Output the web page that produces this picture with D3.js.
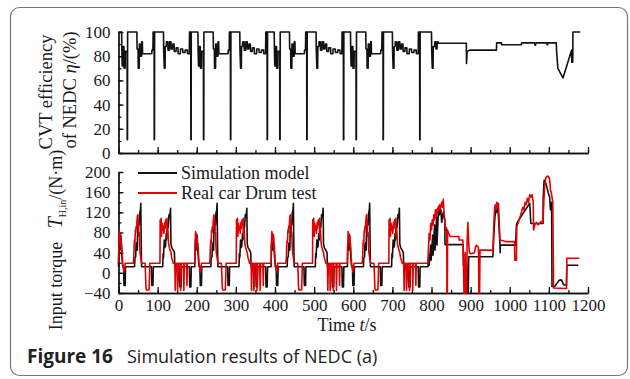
<!DOCTYPE html>
<html lang="en">
	<head>
		<meta charset="utf-8">
		<title>Simulation results of NEDC (a)</title>
		<script type="text/javascript" src="https://cdn.jsdelivr.net/npm/d3@7/dist/d3.min.js"></script>
		<style type="text/css">
			body { margin: 0; background: #fff; }
			.tick text { font-family: "Liberation Serif", "DejaVu Serif", serif; font-size: 17px; fill: #1a1a1a; }
		</style>
	</head>
	<body>
		<script>
			// start times of the four urban (ECE) cycles, the picture repeats the same shape
			var cycleStarts = [0, 195, 390, 585];

			// CVT efficiency, [time inside one ECE cycle (s), eta (%)]
			var effEce = [[0,100],[8,100],[8.5,85],[9.5,72],[11,72],[11.5,88],[14,88],[14.5,70],[17,70],[17.5,84],[22,84],[22.3,11],[23,11],[23.3,100],
				[47,100],[47.5,86],[50,86],[50.5,70],[53,70],[53.5,90],[56,90],[56.5,80],[59,80],[59.5,92],[61,92],[61.5,82],[85,82],[85.5,85],[88,85],[88.5,100],
				[91,100],[91.3,11],[92,11],[92.3,100],[115,100],[115.5,85],[117,70],[119,70],[119.5,88],[122,88],[122.5,92],[126,92],[126.5,85],[130,85],[130.5,92],
				[134,92],[134.5,86],[138,86],[138.5,90],[142,90],[142.5,84],[147,84],[147.5,87],[152,87],[152.5,82],[158,82],[158.5,86],[164,86],[164.5,83],[170,83],
				[170.5,85],[176,85],[176.5,82],[181,82],[181.5,100],[184.7,100],[185,11],[185.7,11],[186,100],[195,100]];
			// CVT efficiency in the extra-urban part, [time (s), eta (%)]
			var effEudc = [[780,100],[800,100],[800.5,85],[802,70],[804,70],[804.5,88],[808,88],[808.5,92],[811,92],[811.5,86],[814,86],[814.5,92],[817,92],
				[817.5,90.7],[889,90.7],[889.5,74],[891,84],[898,85],[966,85],[966.5,91],[979,91],[979.5,89.5],[1030,89.5],[1030.5,91],
				[1064,91],[1064.5,89],[1066,89],[1066.5,91],[1095,91],[1095.5,89.5],[1097,89.5],[1097.5,91],[1119,91],[1119.5,85],[1123,70],[1136,62],[1158,85],
				[1158.5,75],[1161,75],[1161.5,100],[1180,100]];

			// input torque, simulation model, [time inside one ECE cycle (s), N*m]
			var simEce = [[0,12],[1,55],[2,65],[3,45],[4,70],[5,50],[6,75],[7,55],[8,40],[10,20],[11,12],[13,12],[14,-25],[17,-25],[18,12],[41,12],[42,30],[44,32],
				[45,58],[46,50],[47,60],[48,45],[49,92],[50,80],[52,100],[53,95],[54,118],[56,125],[57,138],[58,60],[59,12],[84,12],[85,-25],[88,-25],[89,12],[113,12],
				[114,38],[115,30],[117,65],[118,50],[120,52],[122,78],[123,65],[125,98],[127,90],[129,115],[131,110],[133,128],[134,58],[136,50],[140,45],[143,40],
				[144,12],[156,12],[157,-28],[160,-28],[161,12],[181,12],[182,-28],[185,-28],[186,12],[195,12]];
			var simEudc = [[780,12],[791,12],[793,35],[794,15],[798,55],[799,25],[803,75],[804,35],[808,95],[809,45],[813,110],[814,55],[818,131],[820,115],[824,125],
				[826,100],[830,120],[834,105],[834.5,56],[881,56],[881.5,15],[890,15],[893,-40],[894,-40],[895,32],[957,32],[959,70],[962,110],[966,131],[968,120],
				[970,128],[972,100],[975,55],[975.5,40],[976,55],[1015,55],[1017,95],[1020,101],[1051,138],[1053,110],[1054,98],[1085,98],[1085.5,150],[1088,184],
				[1092,178],[1095,170],[1098,160],[1102,150],[1104,125],[1107,140],[1108,-27],[1115,-27],[1126,-15],[1132,-14],[1138,-24],[1145,-24],[1146,15],[1175,15]];

			// input torque, real car drum test, [time inside one ECE cycle (s), N*m]
			var drumEce = [[0,19],[1,60],[2,82],[3,70],[4,78],[5,60],[6,72],[7,50],[8,58],[10,30],[11,12],[12,15],[14,2],[16,5],[17,19],[38,19],[39,30],[40,55],
				[41,65],[42,60],[43,85],[44,80],[45,92],[46,88],[47,100],[48,110],[49,115],[50,95],[51,105],[52,72],[53,80],[54,55],[55,40],[57,30],[59,19],[68,19],
				[69,0],[70,-25],[71,-34],[78,-34],[79,-10],[80,19],[106,19],[106.5,105],[108,90],[109,108],[110,72],[112,98],[113,85],[115,92],[116,78],[118,100],
				[119,88],[121,105],[122,95],[124,108],[125,70],[126,90],[128,58],[130,50],[132,45],[134,40],[136,30],[138,25],[140,19],[144,19],[145,-35],[146.5,19],
				[150,19],[151,-35],[152.5,-15],[154,19],[158,19],[159,-35],[160.5,19],[166,19],[167,-35],[168.5,19],[174,19],[175,-25],[176,19],[195,19]];
			var drumEudc = [[780,19],[791,19],[792,45],[794,78],[796,65],[798,98],[800,85],[802,105],[804,95],[806,115],[808,105],[810,125],[812,110],[815,128],
				[817,120],[820,135],[822,125],[826,140],[828,130],[830,146],[832,120],[834,100],[836,85],[838,90],[839,85],[839.5,-40],[840.5,-40],[841,85],[843,80],
				[846,75],[848,72],[870,72],[871,65],[880,65],[881,50],[883,-40],[885,-40],[886,40],[888,-40],[890,-40],[891,60],[893,100],[895,60],[897,40],[900,38],
				[910,40],[912,50],[915,55],[920,50],[921,-40],[923,-40],[924,45],[957,45],[959,90],[961,125],[963,135],[965,125],[967,140],[969,130],[971,138],[973,100],
				[975,65],[990,62],[1012,62],[1013,25],[1017,25],[1018,92],[1022,100],[1026,110],[1030,120],[1033,130],[1036,125],[1039,140],[1042,135],[1045,148],
				[1048,140],[1051,155],[1054,150],[1057,155],[1060,140],[1061,85],[1064,95],[1068,100],[1072,95],[1080,102],[1085,100],[1087,140],[1089,170],[1092,188],
				[1096,192],[1100,190],[1102,185],[1104,165],[1106,160],[1108,150],[1110,140],[1112,-30],[1145,-31],[1146,29],[1178,29]];

			var timeTicks = [0,100,200,300,400,500,600,700,800,900,1000,1100,1200];
			var effTicks = [0,20,40,60,80,100];
			var torqueTicks = [-40,0,40,80,120,160,200];
			var legendNames = ["Simulation model", "Real car Drum test"];
			var legendColors = ["#111", "#e30000"];

			function wholeCycle(ece, eudc) {
				var out = [];
				cycleStarts.forEach(function(s) {
					ece.forEach(function(p) { out.push([s + p[0], p[1]]); });
				});
				return out.concat(eudc);
			}

			var width = 630, height = 379;
			var svg = d3.select("body").append("svg")
				.attr("width", width)
				.attr("height", height);

			// rounded frame around figure and caption
			svg.append("rect")
				.attr("x", 10.5).attr("y", 7.5)
				.attr("width", 617).attr("height", 368)
				.attr("rx", 9)
				.attr("fill", "none")
				.attr("stroke", "#777")
				.attr("stroke-width", 1.2);

			var x = d3.scaleLinear().domain([0, 1200]).range([118.5, 588]);
			var yTop = d3.scaleLinear().domain([0, 100]).range([153, 32]);
			var yBot = d3.scaleLinear().domain([-40, 200]).range([293, 172]);

			function drawAxes(y, yMajor, yMinorStep, yDomain, xLabels) {
				var g = svg.append("g");
				var minorX = d3.range(0, 1201, 50);
				g.append("g")
					.attr("transform", "translate(0," + y(yDomain[0]) + ")")
					.call(d3.axisBottom(x).tickValues(minorX).tickSizeInner(-3).tickSizeOuter(0).tickFormat(""));
				g.append("g")
					.attr("transform", "translate(0," + y(yDomain[0]) + ")")
					.call(d3.axisBottom(x).tickValues(timeTicks).tickSizeInner(-6).tickSizeOuter(0).tickPadding(6)
						.tickFormat(xLabels ? d3.format("d") : ""));
				var minorY = d3.range(yDomain[0], yDomain[1] + 1, yMinorStep);
				g.append("g")
					.attr("transform", "translate(" + x(0) + ",0)")
					.call(d3.axisLeft(y).tickValues(minorY).tickSizeInner(-3).tickSizeOuter(0).tickFormat(""));
				g.append("g")
					.attr("transform", "translate(" + x(0) + ",0)")
					.call(d3.axisLeft(y).tickValues(yMajor).tickSizeInner(-5).tickSizeOuter(0).tickPadding(8));
				g.selectAll(".domain, .tick line").attr("stroke", "#111").attr("stroke-width", 1.3);
				return g;
			}

			drawAxes(yTop, effTicks, 10, [0, 100], false);
			drawAxes(yBot, torqueTicks, 20, [-40, 200], true);

			var lineTop = d3.line().x(function(d) { return x(d[0]); }).y(function(d) { return yTop(d[1]); });
			var lineBot = d3.line().x(function(d) { return x(d[0]); }).y(function(d) { return yBot(d[1]); });

			svg.append("path")
				.datum(wholeCycle(effEce, effEudc))
				.attr("d", lineTop)
				.attr("fill", "none")
				.attr("stroke", "#111")
				.attr("stroke-width", 1.6)
				.attr("stroke-linejoin", "round");

			svg.append("path")
				.datum(wholeCycle(simEce, simEudc))
				.attr("d", lineBot)
				.attr("fill", "none")
				.attr("stroke", legendColors[0])
				.attr("stroke-width", 1.6)
				.attr("stroke-linejoin", "round");

			svg.append("path")
				.datum(wholeCycle(drumEce, drumEudc))
				.attr("d", lineBot)
				.attr("fill", "none")
				.attr("stroke", legendColors[1])
				.attr("stroke-width", 1.6)
				.attr("stroke-linejoin", "round");

			// legend
			var legend = svg.append("g").selectAll("g")
				.data(legendNames)
				.enter().append("g")
				.attr("transform", function(d, i) { return "translate(138," + (173 + i * 20) + ")"; });
			legend.append("line")
				.attr("x1", 0).attr("x2", 39)
				.attr("stroke", function(d, i) { return legendColors[i]; })
				.attr("stroke-width", 2);
			legend.append("text")
				.attr("x", 43).attr("y", 6)
				.attr("font-family", "Liberation Serif, serif")
				.attr("font-size", 18)
				.attr("fill", "#1a1a1a")
				.text(function(d) { return d; });

			// axis titles
			var serif = "Liberation Serif, serif";
			svg.append("text")
				.attr("transform", "translate(52,92) rotate(-90)")
				.attr("text-anchor", "middle")
				.attr("font-family", serif).attr("font-size", 18.5).attr("fill", "#1a1a1a")
				.text("CVT efficiency");
			var t2 = svg.append("text")
				.attr("transform", "translate(76,90) rotate(-90)")
				.attr("text-anchor", "middle")
				.attr("font-family", serif).attr("font-size", 18.5).attr("fill", "#1a1a1a");
			t2.append("tspan").text("of NEDC ");
			t2.append("tspan").attr("font-style", "italic").text("η");
			t2.append("tspan").text("/(%)");

			var t3 = svg.append("text")
				.attr("transform", "translate(62,240) rotate(-90)")
				.attr("text-anchor", "middle")
				.attr("font-family", serif).attr("font-size", 18).attr("fill", "#1a1a1a");
			t3.append("tspan").text("Input torque\u2002 ");
			t3.append("tspan").attr("font-style", "italic").attr("font-size", 20).text("T");
			t3.append("tspan").attr("font-size", 10).attr("dy", 4).text("H,in");
			t3.append("tspan").attr("dy", -4).text("/(N·m)");

			var t4 = svg.append("text")
				.attr("x", 347).attr("y", 331)
				.attr("text-anchor", "middle")
				.attr("font-family", serif).attr("font-size", 18).attr("fill", "#1a1a1a");
			t4.append("tspan").text("Time ");
			t4.append("tspan").attr("font-style", "italic").text("t");
			t4.append("tspan").text("/s");

			// caption
			svg.append("text")
				.attr("x", 27).attr("y", 363)
				.attr("font-family", "Open Sans, sans-serif").attr("font-size", 19)
				.attr("font-weight", "bold").attr("fill", "#222")
				.text("Figure 16");
			svg.append("text")
				.attr("x", 127).attr("y", 363)
				.attr("font-family", "Open Sans, sans-serif").attr("font-size", 18)
				.attr("fill", "#222")
				.text("Simulation results of NEDC (a)");
		</script>
	</body>
</html>
